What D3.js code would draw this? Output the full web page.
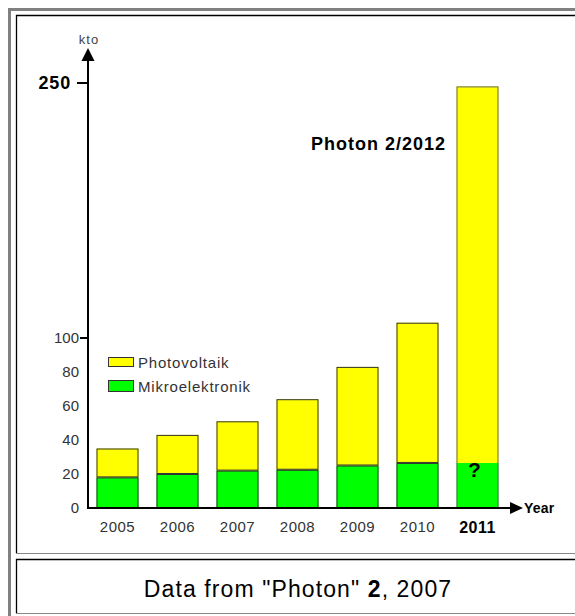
<!DOCTYPE html>
<html>
<head>
<meta charset="utf-8">
<script src="https://cdn.jsdelivr.net/npm/d3@7"></script>
<style>
  html, body { margin: 0; padding: 0; background: #fff; }
  svg { display: block; font-family: "Liberation Sans", Arial, sans-serif; }
</style>
</head>
<body>
<svg id="chart" width="575" height="616"></svg>
<script>
// data (kto)
const years = ["2005", "2006", "2007", "2008", "2009", "2010", "2011"];
const mikro = [18, 20, 22, 22.5, 25, 26.5, 26.5];
const photo = [17, 23, 29, 41.5, 58, 82.5, 221.5];
const yTicks = [0, 20, 40, 60, 80, 100];
const bigTick = 250;

const svg = d3.select("#chart");

// frames (outer thumb box, image cell, caption cell)
svg.append("rect").attr("x", 9.5).attr("y", 9.5).attr("width", 600).attr("height", 620)
    .attr("fill", "none").attr("stroke", "#808080").attr("stroke-width", 3);

function cell(y0, y1) {
    svg.append("path").attr("d", `M16.5,${y1}V${y0 + 0.5}H590`)
        .attr("fill", "none").attr("stroke", "#000").attr("stroke-width", 1.3);
    svg.append("path").attr("d", `M16,${y1 + 0.5}H590`)
        .attr("fill", "none").attr("stroke", "#888");
}
cell(15, 553);
cell(559, 613);

const x = d3.scaleBand().domain(years).range([87.5, 507.5]).paddingInner(0.3).paddingOuter(0.15);
const y = d3.scaleLinear().domain([0, 250]).range([508, 83]);

const rows = years.map((yr, i) => ({ year: yr, mikro: mikro[i], photo: photo[i] }));
const stack = d3.stack().keys(["mikro", "photo"])(rows);
const colors = { mikro: "#00ff00", photo: "#ffff00" };

const g = svg.append("g");

// bar fills
stack.forEach(layer => {
    g.selectAll(null).data(layer).enter().append("rect")
        .attr("x", d => x(d.data.year))
        .attr("width", x.bandwidth())
        .attr("y", d => y(d[1]))
        .attr("height", d => y(d[0]) - y(d[1]))
        .attr("fill", colors[layer.key]);
});

// outlines: each segment, except 2011 which is outlined as a whole
const last = years[years.length - 1];
stack.forEach(layer => {
    g.selectAll(null).data(layer.filter(d => d.data.year !== last)).enter().append("rect")
        .attr("x", d => x(d.data.year) + 0.5)
        .attr("width", x.bandwidth() - 1)
        .attr("y", d => y(d[1]) + 0.5)
        .attr("height", d => y(d[0]) - y(d[1]) - 1)
        .attr("fill", "none").attr("stroke", "#333");
});
const lastSeg = stack[1][years.length - 1];
g.append("rect")
    .attr("x", x(last) + 0.5).attr("width", x.bandwidth() - 1)
    .attr("y", y(lastSeg[1]) + 0.5).attr("height", y(0) - y(lastSeg[1]) - 1)
    .attr("fill", "none").attr("stroke", "#666");

// question mark on 2011
g.append("text")
    .attr("x", x(last) + x.bandwidth() / 2 - 3)
    .attr("y", y(mikro[6]) + 9)
    .attr("text-anchor", "middle").attr("dominant-baseline", "middle")
    .attr("font-size", 21).attr("font-weight", "bold").text("?");

// axes
const x0 = 88;
g.append("line").attr("x1", x0).attr("x2", x0).attr("y1", y(0) + 1).attr("y2", 58)
    .attr("stroke", "#000").attr("stroke-width", 2);
g.append("path").attr("d", `M${x0},48L${x0 - 6.5},61L${x0 + 6.5},61Z`).attr("fill", "#000");
g.append("line").attr("x1", x0 - 1).attr("x2", 512).attr("y1", y(0)).attr("y2", y(0))
    .attr("stroke", "#000").attr("stroke-width", 2);
g.append("path").attr("d", `M523,${y(0)}L510,${y(0) - 6}L510,${y(0) + 6}Z`).attr("fill", "#000");

g.append("text").attr("x", x0 + 1).attr("y", 44).attr("text-anchor", "middle")
    .attr("font-size", 13).attr("letter-spacing", 1).attr("fill", "#444").text("kto");
g.append("text").attr("x", 524).attr("y", y(0) + 1).attr("dominant-baseline", "middle")
    .attr("font-size", 14).attr("font-weight", "bold").attr("letter-spacing", 0.2).text("Year");

// y tick labels
g.selectAll(null).data(yTicks).enter().append("text")
    .attr("x", 79).attr("y", d => y(d)).attr("dy", "0.36em")
    .attr("text-anchor", "end").attr("font-size", 15)
    .attr("fill", "#333").text(d => d);
g.append("line").attr("x1", 80).attr("x2", x0).attr("y1", y(100)).attr("y2", y(100))
    .attr("stroke", "#000").attr("stroke-width", 2);
g.append("line").attr("x1", 77).attr("x2", x0).attr("y1", y(bigTick)).attr("y2", y(bigTick))
    .attr("stroke", "#000").attr("stroke-width", 2);
g.append("text").attr("x", 71).attr("y", y(bigTick)).attr("dy", "0.36em")
    .attr("text-anchor", "end").attr("font-size", 18).attr("font-weight", "bold")
    .attr("letter-spacing", 0.8).text(bigTick);

// x labels
g.selectAll(null).data(years).enter().append("text")
    .attr("x", d => x(d) + x.bandwidth() / 2).attr("y", 527).attr("dy", "0.36em")
    .attr("text-anchor", "middle")
    .attr("font-size", d => d === last ? 16 : 15)
    .attr("font-weight", d => d === last ? "bold" : "normal")
    .attr("letter-spacing", 0.5)
    .attr("fill", d => d === last ? "#000" : "#333")
    .text(d => d);

// legend
const legend = [
    { label: "Photovoltaik", key: "photo", y: 357, h: 9 },
    { label: "Mikroelektronik", key: "mikro", y: 380, h: 11 }
];
legend.forEach(l => {
    g.append("rect").attr("x", 108.5).attr("y", l.y + 0.5).attr("width", 25).attr("height", l.h)
        .attr("fill", colors[l.key]).attr("stroke", "#333");
    g.append("text").attr("x", 138).attr("y", l.y + l.h / 2 + 1).attr("dy", "0.36em")
        .attr("font-size", 15).attr("letter-spacing", 0.8).attr("fill", "#333").text(l.label);
});

// source note
g.append("text").attr("x", 446).attr("y", 144).attr("dy", "0.36em")
    .attr("text-anchor", "end").attr("font-size", 18).attr("font-weight", "bold")
    .attr("letter-spacing", 1).text("Photon 2/2012");

// caption
const cap = svg.append("text").attr("x", 298).attr("y", 597).attr("text-anchor", "middle")
    .attr("font-size", 23).attr("letter-spacing", 1.1).attr("fill", "#000");
cap.append("tspan").text('Data from "Photon" ');
cap.append("tspan").attr("font-weight", "bold").text("2");
cap.append("tspan").text(", 2007");
</script>
</body>
</html>
